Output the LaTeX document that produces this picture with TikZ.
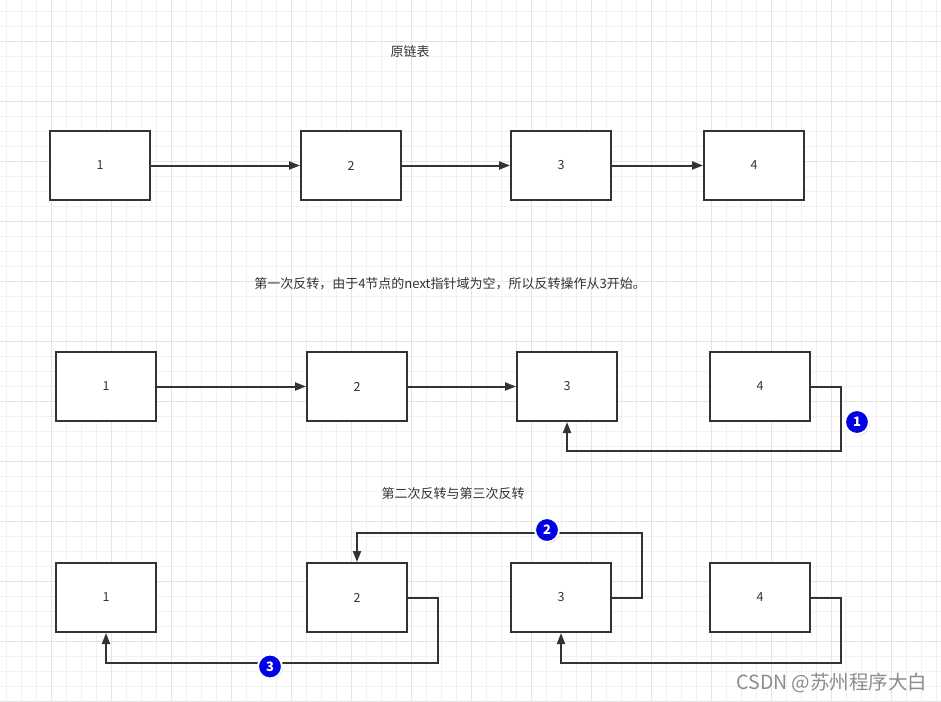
\documentclass[tikz,border=0pt]{standalone}
\usepackage{fontspec}
\setmainfont{Noto Sans CJK SC}
\usetikzlibrary{arrows.meta,shadows}
\definecolor{gridminor}{HTML}{F1F1F1}
\definecolor{gridmajor}{HTML}{E4E4E4}
\definecolor{ink}{HTML}{333333}
\definecolor{badgeblue}{HTML}{0000E6}
\tikzset{
  listbox/.style={draw=ink, line width=2pt, fill=white, minimum width=100pt, minimum height=69pt, inner sep=0pt, font=\fontsize{12.5}{14}\selectfont, text=ink},
  link/.style={draw=ink, line width=2pt, -{Triangle[length=11pt,width=8pt]}},
  caption/.style={font=\fontsize{13}{15}\selectfont, text=ink, inner sep=0pt},
  badge/.style={circle, fill=badgeblue, draw=white, line width=2pt, minimum size=24pt, inner sep=0pt, text=white, font=\bfseries\fontsize{13}{14}\selectfont, drop shadow={shadow xshift=1pt, shadow yshift=-1.2pt, opacity=0.35}}
}
\begin{document}
\begin{tikzpicture}[x=1pt,y=-1pt]
\useasboundingbox (0,0) rectangle (941,701);
\fill[white] (0,0) rectangle (941,701);
% grid
\foreach \i in {0,...,62} {\draw[gridminor, line width=1pt] ({6.7+15*\i},0) -- ({6.7+15*\i},701);}
\foreach \i in {0,...,46} {\draw[gridminor, line width=1pt] (0,{11.7+15*\i}) -- (941,{11.7+15*\i});}
\foreach \i in {0,...,15} {\draw[gridmajor, line width=1pt] ({51.7+60*\i},0) -- ({51.7+60*\i},701);}
\foreach \i in {0,...,11} {\draw[gridmajor, line width=1pt] (0,{41.7+60*\i}) -- (941,{41.7+60*\i});}

% captions
\node[caption] (t1) at (410,52) {原链表};
\node[caption] (t2) at (450,284) {第一次反转，由于4节点的next指针域为空，所以反转操作从3开始。};
\node[caption] (t3) at (453,494) {第二次反转与第三次反转};

% row 1
\node[listbox] (a1) at (100,165.5) {1};
\node[listbox] (a2) at (351,165.5) {2};
\node[listbox] (a3) at (561,165.5) {3};
\node[listbox] (a4) at (754,165.5) {4};
\draw[link] (a1) -- (a2);
\draw[link] (a2) -- (a3);
\draw[link] (a3) -- (a4);

% row 2
\node[listbox] (b1) at (106,386.5) {1};
\node[listbox] (b2) at (357,386.5) {2};
\node[listbox] (b3) at (567,386.5) {3};
\node[listbox] (b4) at (760,386.5) {4};
\draw[link] (b1) -- (b2);
\draw[link] (b2) -- (b3);
\draw[link] (b4.east) -- ++(30,0) -- ++(0,64.5) -| (b3.south);
\node[badge] (n1) at (857,422) {1};

% row 3
\node[listbox] (c1) at (106,597.5) {1};
\node[listbox] (c2) at (357,597.5) {2};
\node[listbox] (c3) at (561,597.5) {3};
\node[listbox] (c4) at (760,597.5) {4};
\draw[link] (c3.east) -- ++(30,0) -- ++(0,-65) -| (c2.north);
\draw[link] (c2.east) -- ++(30,0) -- ++(0,65) -| (c1.south);
\draw[link] (c4.east) -- ++(30,0) -- ++(0,65) -| (c3.south);
\node[badge] (n2) at (547,530) {2};
\node[badge] (n3) at (270,666.5) {3};

% watermark
\node[font=\fontsize{19.5}{22}\selectfont, text=black!45, inner sep=0pt] (wm) at (832,683) {CSDN @苏州程序大白};
\end{tikzpicture}
\end{document}
